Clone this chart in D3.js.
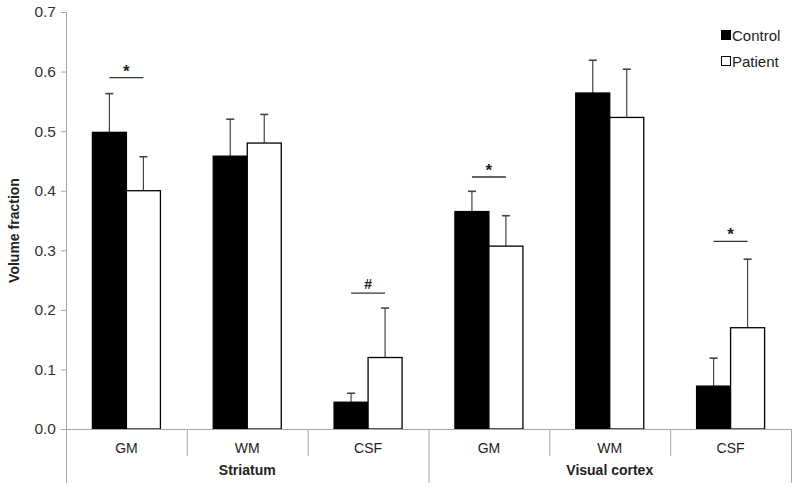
<!DOCTYPE html>
<html><head><meta charset="utf-8">
<script src="https://cdn.jsdelivr.net/npm/d3@7"></script>
<style>body{margin:0;background:#fff}svg{display:block;font-family:Arial,"Liberation Sans",sans-serif}</style>
</head><body><svg id="c" width="800" height="491"></svg>
<script>
const groups = ["Striatum", "Visual cortex"];
const tissues = ["GM", "WM", "CSF"];
const series = ["Control", "Patient"];
const controlMean = [0.498, 0.458, 0.045, 0.365, 0.564, 0.072];
const controlErr  = [0.065, 0.062, 0.015, 0.034, 0.055, 0.047];
const patientMean = [0.400, 0.480, 0.120, 0.307, 0.523, 0.170];
const patientErr  = [0.057, 0.048, 0.083, 0.051, 0.081, 0.115];
const sigMarks = [
  {cat: 0, label: "*", y: 0.59},
  {cat: 2, label: "#", y: 0.228},
  {cat: 3, label: "*", y: 0.423},
  {cat: 5, label: "*", y: 0.315}
];
const yTicks = [0, 0.1, 0.2, 0.3, 0.4, 0.5, 0.6, 0.7];

(function () {
const svg = d3.select("#c");
const mLeft = 66, mRight = 791, mTop = 12, base = 429;
const axisColor = "#a6a6a6";

const cats = [];
groups.forEach((g, gi) => tissues.forEach((t, ti) => cats.push({group: g, tissue: t, idx: gi * 3 + ti})));

const x = d3.scaleBand().domain(cats.map(d => d.idx)).range([mLeft, mRight]).paddingInner(0).paddingOuter(0);
const y = d3.scaleLinear().domain([0, 0.7]).range([base, mTop]);
const barW = 34;

const yAxis = svg.append("g").attr("transform", `translate(${mLeft},0)`)
  .call(d3.axisLeft(y).tickValues(yTicks).tickFormat(d3.format(".1f")).tickSize(5).tickSizeOuter(0));
yAxis.select(".domain").remove();
yAxis.selectAll(".tick line").attr("stroke", axisColor);
yAxis.selectAll(".tick text").attr("font-size", 15.5).attr("fill", "#333").attr("x", -10).attr("font-family", "Arial, Liberation Sans, sans-serif");
svg.append("line").attr("x1", mLeft + 0.5).attr("x2", mLeft + 0.5).attr("y1", mTop).attr("y2", 483).attr("stroke", axisColor);

svg.append("text").attr("transform", `translate(19,${(mTop + base) / 2 + 10}) rotate(-90)`)
  .attr("text-anchor", "middle").attr("font-size", 14).attr("font-weight", "bold").attr("fill", "#222")
  .text("Volume fraction");

const data = [];
cats.forEach((c, i) => {
  data.push({cat: i, s: 0, v: controlMean[i], e: controlErr[i]});
  data.push({cat: i, s: 1, v: patientMean[i], e: patientErr[i]});
});
const bx = d => x(d.cat) + x.bandwidth() / 2 - barW + d.s * barW;

const eg = svg.append("g").attr("stroke", "#444").attr("stroke-width", 1.2);
data.forEach(d => {
  const cx = bx(d) + barW / 2;
  eg.append("line").attr("x1", cx).attr("x2", cx).attr("y1", y(d.v)).attr("y2", y(d.v + d.e));
  eg.append("line").attr("x1", cx - 4).attr("x2", cx + 4).attr("y1", y(d.v + d.e)).attr("y2", y(d.v + d.e)).attr("stroke-width", 1.6);
});

svg.append("g").selectAll("rect").data(data).join("rect")
  .attr("x", d => bx(d)).attr("width", barW)
  .attr("y", d => y(d.v)).attr("height", d => base - y(d.v))
  .attr("fill", d => d.s === 0 ? "#000" : "#fff")
  .attr("stroke", "#000").attr("stroke-width", 1.3);

svg.append("line").attr("x1", mLeft).attr("x2", mRight).attr("y1", base + 0.5).attr("y2", base + 0.5).attr("stroke", axisColor);
cats.forEach((c, i) => {
  if (i > 0) {
    const xx = x(c.idx) + 0.5;
    svg.append("line").attr("x1", xx).attr("x2", xx).attr("y1", base).attr("y2", i === 3 ? 483 : 456).attr("stroke", axisColor);
  }
  svg.append("text").attr("x", x(c.idx) + x.bandwidth() / 2).attr("y", 453)
    .attr("text-anchor", "middle").attr("font-size", 14).attr("fill", "#222").text(c.tissue);
});
svg.append("line").attr("x1", mRight + 0.5).attr("x2", mRight + 0.5).attr("y1", base).attr("y2", 483).attr("stroke", axisColor);
groups.forEach((g, gi) => {
  const x0 = x(gi * 3), x1 = x(gi * 3 + 2) + x.bandwidth();
  svg.append("text").attr("x", (x0 + x1) / 2).attr("y", 475)
    .attr("text-anchor", "middle").attr("font-size", 14).attr("font-weight", "bold").attr("fill", "#222").text(g);
});

sigMarks.forEach(m => {
  const cx = x(m.cat) + x.bandwidth() / 2;
  svg.append("line").attr("x1", cx - 17).attr("x2", cx + 17).attr("y1", y(m.y)).attr("y2", y(m.y)).attr("stroke", "#333").attr("stroke-width", 1.3);
  svg.append("text").attr("x", cx).attr("y", y(m.y) - (m.label === "*" ? 1 : 4))
    .attr("text-anchor", "middle").attr("font-size", m.label === "*" ? 17 : 14).attr("font-weight", "bold").attr("fill", "#222").text(m.label);
});

const lg = svg.append("g").attr("transform", "translate(721,30)");
series.forEach((s, i) => {
  lg.append("rect").attr("x", 0.5).attr("y", i * 26 + 0.5).attr("width", 9).attr("height", 9)
    .attr("fill", i === 0 ? "#000" : "#fff").attr("stroke", "#000").attr("stroke-width", 1);
  lg.append("text").attr("x", 11).attr("y", i * 26 + 10.5).attr("font-size", 15).attr("fill", "#222").text(s);
});
})();
</script></body></html>
